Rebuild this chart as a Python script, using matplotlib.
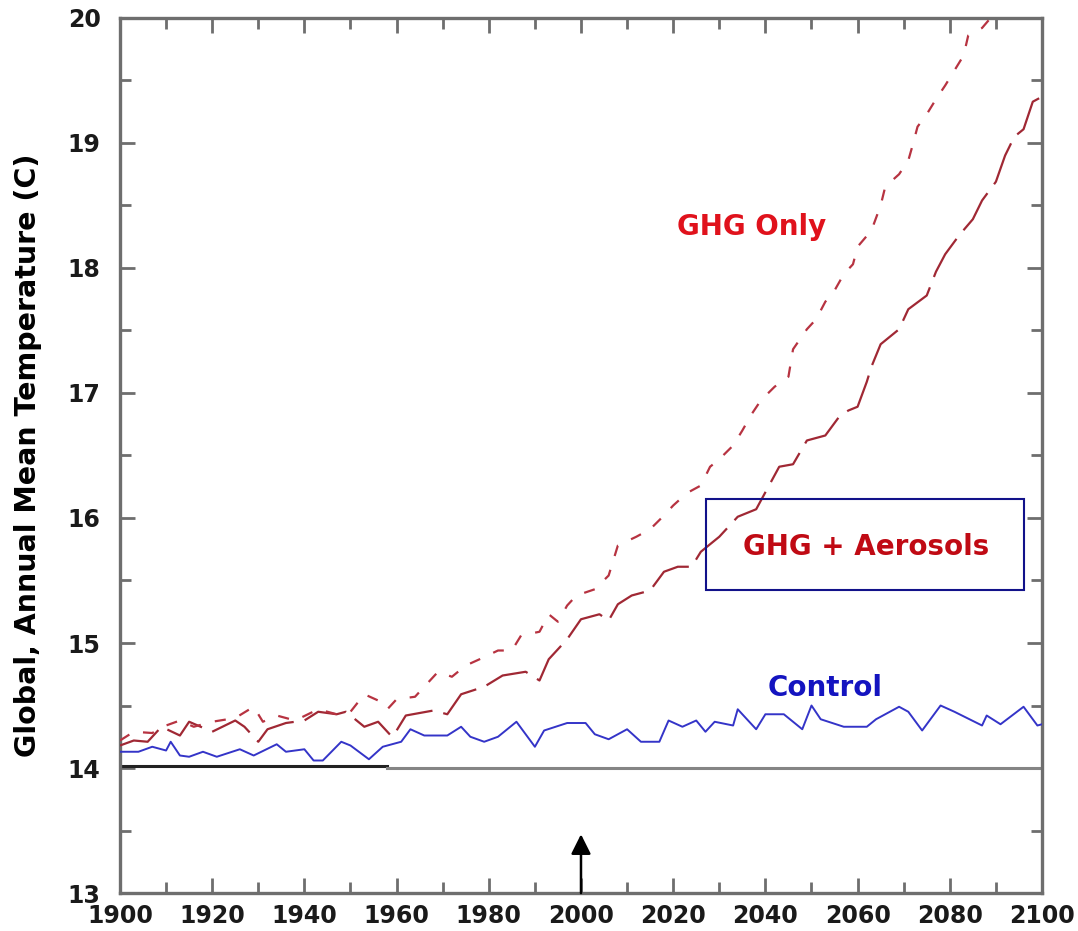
"""plot.py — global annual mean temperature: control vs GHG-only vs GHG + aerosols

Values read off the reference figure; saved to out.png.
"""
import matplotlib
matplotlib.use('Agg')
import matplotlib.pyplot as plt
import matplotlib.patches as mpatches
from matplotlib.ticker import MultipleLocator

# ── data ──────────────────────────────────────────────────────────────────────

control_years = [1900, 1904, 1907, 1910, 1911, 1913, 1915, 1918, 1921, 1926,
                 1929, 1934, 1936, 1940, 1942, 1944, 1948, 1950, 1954, 1957,
                 1961, 1963, 1966, 1971, 1974, 1976, 1979, 1982, 1986, 1990,
                 1992, 1997, 2001, 2003, 2006, 2010, 2013, 2017, 2019, 2022,
                 2025, 2027, 2029, 2033, 2034, 2038, 2040, 2044, 2048, 2050,
                 2052, 2057, 2062, 2064, 2069, 2071, 2074, 2078, 2081, 2087,
                 2088, 2091, 2096, 2099, 2100]
control_temp = [14.13, 14.13, 14.17, 14.14, 14.21, 14.10, 14.09, 14.13, 14.09, 14.15,
                14.10, 14.19, 14.13, 14.15, 14.06, 14.06, 14.21, 14.18, 14.07, 14.17,
                14.21, 14.31, 14.26, 14.26, 14.33, 14.25, 14.21, 14.25, 14.37, 14.17,
                14.30, 14.36, 14.36, 14.27, 14.23, 14.31, 14.21, 14.21, 14.38, 14.33,
                14.38, 14.29, 14.37, 14.34, 14.47, 14.31, 14.43, 14.43, 14.31, 14.50,
                14.39, 14.33, 14.33, 14.39, 14.49, 14.45, 14.30, 14.50, 14.45, 14.34,
                14.42, 14.35, 14.49, 14.34, 14.35]

ghg_years = [1900, 1903, 1907, 1910, 1913, 1916, 1920, 1925, 1929, 1931,
             1934, 1938, 1943, 1947, 1950, 1953, 1956, 1958, 1960, 1964,
             1966, 1969, 1972, 1975, 1978, 1982, 1985, 1987, 1991, 1993,
             1995, 1997, 1999, 2003, 2006, 2007, 2008, 2012, 2015, 2018,
             2020, 2023, 2026, 2028, 2030, 2033, 2035, 2037, 2039, 2042,
             2045, 2046, 2049, 2051, 2053, 2055, 2057, 2059, 2060, 2063,
             2065, 2066, 2069, 2071, 2072, 2073, 2075, 2077, 2079, 2081,
             2083, 2084, 2087, 2090]
ghg_temp = [14.22, 14.29, 14.28, 14.34, 14.38, 14.33, 14.37, 14.40, 14.49, 14.37,
            14.42, 14.38, 14.47, 14.43, 14.45, 14.59, 14.54, 14.47, 14.55, 14.57,
            14.65, 14.77, 14.73, 14.82, 14.87, 14.94, 14.94, 15.06, 15.09, 15.23,
            15.17, 15.30, 15.38, 15.43, 15.54, 15.66, 15.78, 15.85, 15.91, 16.02,
            16.10, 16.20, 16.26, 16.41, 16.47, 16.58, 16.70, 16.83, 16.94, 17.05,
            17.13, 17.35, 17.51, 17.59, 17.73, 17.82, 17.95, 18.03, 18.17, 18.30,
            18.50, 18.65, 18.75, 18.86, 18.99, 19.13, 19.23, 19.35, 19.46, 19.58,
            19.70, 19.86, 19.92, 20.05]

aer_years = [1900, 1903, 1906, 1909, 1913, 1915, 1920, 1925, 1927, 1930,
             1932, 1936, 1940, 1943, 1947, 1949, 1953, 1956, 1959, 1960,
             1962, 1968, 1971, 1974, 1979, 1983, 1988, 1991, 1993, 1997,
             2000, 2004, 2006, 2008, 2011, 2015, 2018, 2021, 2024, 2026,
             2030, 2034, 2038, 2043, 2046, 2049, 2053, 2056, 2058, 2060,
             2062, 2063, 2065, 2069, 2071, 2075, 2077, 2079, 2082, 2085,
             2087, 2090, 2092, 2094, 2096, 2098, 2100]
aer_temp = [14.18, 14.22, 14.21, 14.33, 14.26, 14.37, 14.29, 14.38, 14.33, 14.21,
            14.31, 14.36, 14.38, 14.45, 14.43, 14.45, 14.33, 14.37, 14.25, 14.30,
            14.42, 14.46, 14.43, 14.59, 14.65, 14.74, 14.77, 14.70, 14.87, 15.03,
            15.19, 15.23, 15.18, 15.31, 15.38, 15.42, 15.57, 15.61, 15.61, 15.73,
            15.85, 16.01, 16.07, 16.41, 16.43, 16.62, 16.66, 16.81, 16.86, 16.89,
            17.09, 17.21, 17.39, 17.51, 17.67, 17.78, 17.97, 18.11, 18.26, 18.39,
            18.54, 18.69, 18.90, 19.05, 19.11, 19.33, 19.37]

# reference line at 14 C: dark up to 1958, grey afterwards
base_dark_years = [1900, 1958]
base_dark_temp = [14.02, 14.02]
base_grey_years = [1958, 2100]
base_grey_temp = [14.0, 14.0]

arrow_year = 2000
arrow_tip = 13.47

# ── style ─────────────────────────────────────────────────────────────────────

FRAME = '#6e6e6e'
RED_GHG = '#b73341'
RED_AER = '#a02834'
BLUE = '#3434c8'


def main() -> None:
    fig = plt.figure(figsize=(10.78, 9.31), dpi=100, facecolor='white')
    ax = fig.add_axes([0.1113, 0.0408, 0.8553, 0.9399])

    ax.plot(base_dark_years, base_dark_temp, color='#222222', lw=2.2, zorder=2)
    ax.plot(base_grey_years, base_grey_temp, color='#858585', lw=2.2, zorder=2)

    ax.plot(control_years, control_temp, color=BLUE, lw=1.4, zorder=3)
    ax.plot(aer_years, aer_temp, color=RED_AER, lw=1.6, zorder=3,
            dashes=(20, 5))
    ax.plot(ghg_years, ghg_temp, color=RED_GHG, lw=1.6, zorder=3,
            dashes=(5, 6.5))

    # arrow marking year 2000
    ax.annotate('', xy=(arrow_year, arrow_tip), xytext=(arrow_year, 13.0),
                arrowprops=dict(arrowstyle='-|>', color='black', lw=1.8,
                                mutation_scale=30, shrinkA=0, shrinkB=0),
                zorder=4)

    # labels
    bold = dict(fontweight='bold', family='DejaVu Sans', ha='center', va='center')
    ax.text(2037.1, 18.33, 'GHG Only', color='#e0121c', fontsize=20, **bold)
    ax.text(2053.0, 14.64, 'Control', color='#1414c0', fontsize=20, **bold)
    ax.text(2061.8, 15.77, 'GHG + Aerosols', color='#c00a14', fontsize=20, **bold)
    ax.add_patch(mpatches.Rectangle((2027.1, 15.42), 69.0, 0.73, fill=False,
                                    ec='#12128a', lw=1.5, zorder=5))

    ax.set_xlim(1900, 2100)
    ax.set_ylim(13, 20)
    ax.xaxis.set_major_locator(MultipleLocator(20))
    ax.xaxis.set_minor_locator(MultipleLocator(10))
    ax.yaxis.set_major_locator(MultipleLocator(1))
    ax.yaxis.set_minor_locator(MultipleLocator(0.5))
    ax.tick_params(which='both', direction='in', top=True, right=True,
                   color=FRAME, width=2)
    ax.tick_params(which='major', length=11, labelsize=17, pad=8,
                   labelcolor='#1a1a1a')
    ax.tick_params(which='minor', length=8)
    ax.tick_params(axis='y', which='major', pad=14)
    for lab in ax.get_xticklabels() + ax.get_yticklabels():
        lab.set_fontweight('bold')
    for sp in ax.spines.values():
        sp.set_edgecolor(FRAME)
        sp.set_linewidth(2.4)

    ax.set_ylabel('Global, Annual Mean Temperature (C)', fontsize=20.5,
                  fontweight='bold', color='black')
    ax.yaxis.set_label_coords(-0.085, 0.50)

    fig.savefig('out.png', dpi=100, facecolor='white')


if __name__ == '__main__':
    main()
